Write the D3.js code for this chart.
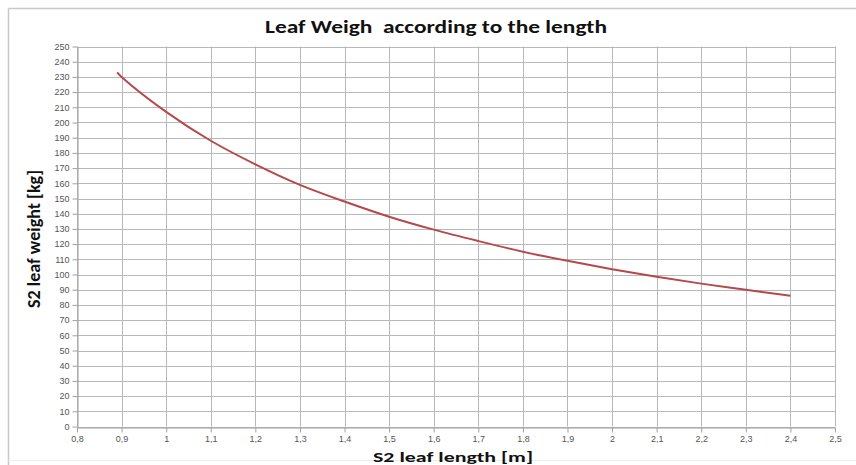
<!DOCTYPE html>
<html><head><meta charset="utf-8">
<script src="https://cdn.jsdelivr.net/npm/d3@7"></script>
<style>html,body{margin:0;padding:0;background:#fff;}</style>
</head><body>
<script>
const lengths = [0.89, 0.9, 1.0, 1.1, 1.2, 1.3, 1.4, 1.5, 1.6, 1.7, 1.8, 1.9, 2.0, 2.1, 2.2, 2.3, 2.4];
const weights = [233, 230, 207, 188, 172.5, 159, 148, 138, 129.5, 122, 115, 109, 103.5, 98.5, 94, 90, 86];
const xTicks = [0.8,0.9,1.0,1.1,1.2,1.3,1.4,1.5,1.6,1.7,1.8,1.9,2.0,2.1,2.2,2.3,2.4,2.5];
const yTicks = d3.range(0, 251, 10);
const title = "Leaf Weigh  according to the length";
const xTitle = "S2 leaf length [m]";
const yTitle = "S2 leaf weight [kg]";

const W = 856, H = 465;
const m = {left: 77, right: 21, top: 46.5, bottom: 38.5};
const svg = d3.select("body").append("svg").attr("width", W).attr("height", H);

// outer frame
svg.append("line").attr("x1", 8.5).attr("x2", W).attr("y1", 8.5).attr("y2", 8.5).attr("stroke", "#c8c8c8").attr("stroke-width", 1.5);
svg.append("line").attr("x1", 8.5).attr("x2", 8.5).attr("y1", 8.5).attr("y2", H).attr("stroke", "#c8c8c8").attr("stroke-width", 1.5);
svg.append("line").attr("x1", 8.5).attr("x2", W).attr("y1", 460.5).attr("y2", 460.5).attr("stroke", "#eeeeee").attr("stroke-width", 1);

const x = d3.scaleLinear().domain([0.8, 2.5]).range([m.left, W - m.right]);
const y = d3.scaleLinear().domain([0, 250]).range([H - m.bottom, m.top]);

const fmt = d => d3.format(".1f")(d).replace(/\.0$/, "").replace(".", ",");

// grid
svg.append("g").selectAll("line").data(yTicks).join("line")
  .attr("x1", m.left).attr("x2", W - m.right)
  .attr("y1", d => Math.round(y(d)) + 0.5).attr("y2", d => Math.round(y(d)) + 0.5)
  .attr("stroke", "#b8b8b8").attr("stroke-width", 1);
svg.append("g").selectAll("line").data(xTicks).join("line")
  .attr("y1", m.top).attr("y2", H - m.bottom)
  .attr("x1", d => Math.round(x(d)) + 0.5).attr("x2", d => Math.round(x(d)) + 0.5)
  .attr("stroke", "#b8b8b8").attr("stroke-width", 1);

// axes
const xAxis = svg.append("g").attr("transform", `translate(0,${Math.round(y(0)) + 0.5})`)
  .call(d3.axisBottom(x).tickValues(xTicks).tickFormat(fmt).tickSize(5).tickPadding(3).tickSizeOuter(0));
const yAxis = svg.append("g").attr("transform", `translate(${Math.round(x(0.8)) + 0.5},0)`)
  .call(d3.axisLeft(y).tickValues(yTicks).tickSize(5).tickSizeOuter(0));
[xAxis, yAxis].forEach(g => {
  g.select(".domain").attr("stroke", "#a0a0a0");
  g.selectAll(".tick line").attr("stroke", "#a0a0a0");
  g.selectAll("text").attr("fill", "#555").attr("font-family", "'Liberation Sans', Arial, sans-serif").attr("font-size", 9);
});
yAxis.selectAll(".tick text").attr("x", -8);

// line
const line = d3.line().x((d, i) => x(lengths[i])).y(d => y(d)).curve(d3.curveCatmullRom);
svg.append("path").datum(weights).attr("d", line)
  .attr("fill", "none").attr("stroke", "#b5494a").attr("stroke-width", 2);

// titles
const font = "Carlito, Lato, 'Open Sans', sans-serif";
svg.append("text").attr("x", 436).attr("y", 33).attr("text-anchor", "middle")
  .style("white-space", "pre")
  .attr("textLength", 342).attr("lengthAdjust", "spacingAndGlyphs")
  .attr("font-family", font).attr("font-weight", "bold").attr("font-size", 19).attr("fill", "#111").text(title);
svg.append("text").attr("x", 453).attr("y", 462).attr("text-anchor", "middle")
  .attr("textLength", 160).attr("lengthAdjust", "spacingAndGlyphs")
  .attr("font-family", font).attr("font-weight", "bold").attr("font-size", 14.5).attr("fill", "#111").text(xTitle);
svg.append("text").attr("transform", "translate(40,239) rotate(-90)").attr("text-anchor", "middle")
  .attr("textLength", 138).attr("lengthAdjust", "spacingAndGlyphs")
  .attr("font-family", font).attr("font-weight", "bold").attr("font-size", 18).attr("fill", "#111").text(yTitle);
</script>
</body></html>
